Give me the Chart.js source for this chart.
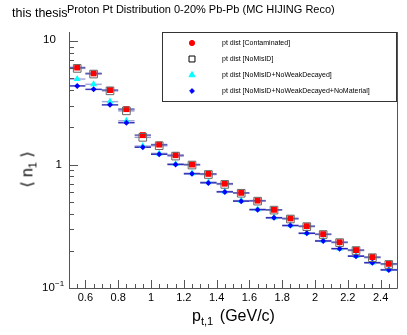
<!DOCTYPE html>
<html>
<head>
<meta charset="utf-8">
<script src="https://cdn.jsdelivr.net/npm/chart.js@4"></script>
<style>
  body { margin: 0; background: #fff; }
  #wrap { position: relative; width: 407px; height: 335px; font-family: "Liberation Sans", Arial, sans-serif; }
  .txt { position: absolute; white-space: nowrap; color: #000; line-height: 1; }
  .txt sub { font-size: 70%; vertical-align: -0.35em; }
  #ytitle { transform: rotate(-90deg); transform-origin: center center; }
</style>
</head>
<body>
<div id="wrap">
  <canvas id="chart" width="407" height="335"></canvas>
  <div class="txt" style="left:12px; top:7px; font-size:12.5px;">this thesis</div>
  <div class="txt" style="left:67px; top:4px; font-size:11px;">Proton Pt Distribution 0-20% Pb-Pb (MC HIJING Reco)</div>
  <div class="txt" style="left:192px; top:308px; font-size:16px;">p<sub>t,1</sub> <span style="margin-left:2px">(GeV/c)</span></div>
  <div class="txt" id="ytitle" style="left:2px; top:160px; font-size:16px; width:54px; text-align:center;">&lang; n<sub>1</sub> &rang;</div>
</div>
<script>
// bin centres (GeV/c) and the four distributions
const binCenters = [0.55, 0.65, 0.75, 0.85, 0.95, 1.05, 1.15, 1.25, 1.35, 1.45,
                    1.55, 1.65, 1.75, 1.85, 1.95, 2.05, 2.15, 2.25, 2.35, 2.45];
const binHalfWidth = 0.05;
const contaminated = [6.1, 5.47, 4.01, 2.81, 1.73, 1.45, 1.19, 1.0, 0.84, 0.70,
                      0.59, 0.51, 0.43, 0.366, 0.317, 0.273, 0.235, 0.203, 0.178, 0.157];
const noMisID = [6.0, 5.4, 3.95, 2.72, 1.66, 1.42, 1.17, 0.99, 0.83, 0.69,
                 0.585, 0.505, 0.427, 0.362, 0.314, 0.271, 0.233, 0.201, 0.176, 0.155];
const noWeakDecayed = [4.92, 4.46, 3.23, 2.26, 1.41, 1.23, 1.01, 0.85, 0.72, 0.605,
                       0.51, 0.435, 0.372, 0.322, 0.279, 0.242, 0.209, 0.182, 0.161, 0.141];
const noMaterial = [4.33, 4.06, 3.04, 2.18, 1.38, 1.21, 1.0, 0.84, 0.71, 0.60,
                    0.505, 0.43, 0.37, 0.32, 0.277, 0.24, 0.208, 0.181, 0.160, 0.14];

const xTicks = [0.6, 0.8, 1.0, 1.2, 1.4, 1.6, 1.8, 2.0, 2.2, 2.4];
const xTickLabels = ['0.6', '0.8', '1', '1.2', '1.4', '1.6', '1.8', '2', '2.2', '2.4'];
const yTicks = [0.1, 1, 10];
const yTickLabels = ['10-1', '1', '10'];

const legendLabels = [
    'pt dist [Contaminated]',
    'pt dist [NoMisID]',
    'pt dist [NoMisID+NoWeakDecayed]',
    'pt dist [NoMisID+NoWeakDecayed+NoMaterial]'
];

const FONT = '"Liberation Sans", Arial, sans-serif';
const AXIS_COLOR = '#555';

function toPoints(values) {
    return binCenters.map((x, i) => ({ x: x, y: values[i] }));
}

// horizontal error bars (bin width), drawn under the markers
const errorBars = {
    id: 'errorBars',
    beforeDatasetsDraw(chart) {
        const ctx = chart.ctx;
        const xs = chart.scales.x;
        const ys = chart.scales.y;
        ctx.save();
        ctx.lineWidth = 1.5;
        chart.data.datasets.forEach(ds => {
            ctx.strokeStyle = ds.barColor;
            ds.data.forEach(p => {
                const y = ys.getPixelForValue(p.y);
                ctx.beginPath();
                ctx.moveTo(xs.getPixelForValue(p.x - binHalfWidth), y);
                ctx.lineTo(xs.getPixelForValue(p.x + binHalfWidth), y);
                ctx.stroke();
            });
        });
        ctx.restore();
    }
};

// ROOT-like frame: axes with inward ticks, right edge, y labels, legend box
const rootFrame = {
    id: 'rootFrame',
    afterDraw(chart) {
        const ctx = chart.ctx;
        const xs = chart.scales.x;
        const ys = chart.scales.y;
        const a = chart.chartArea;
        ctx.save();
        ctx.strokeStyle = AXIS_COLOR;
        ctx.lineWidth = 1;

        ctx.beginPath();
        ctx.moveTo(a.left + 0.5, a.top);
        ctx.lineTo(a.left + 0.5, a.bottom + 0.5);
        ctx.lineTo(a.right + 0.5, a.bottom + 0.5);
        ctx.lineTo(a.right + 0.5, a.top);
        ctx.stroke();

        // x ticks: major every 0.2, minor every 0.05
        ctx.beginPath();
        for (let k = 0; k <= 40; k++) {
            const v = 0.5 + k * 0.05;
            const px = Math.round(xs.getPixelForValue(v)) + 0.5;
            const major = (k - 2) % 4 === 0;
            const len = major ? 8 : 4;
            ctx.moveTo(px, a.bottom);
            ctx.lineTo(px, a.bottom - len);
        }
        // y ticks: major per decade, minor 2..9
        for (let d = -1; d <= 1; d++) {
            for (let m = 1; m <= 9; m++) {
                const v = m * Math.pow(10, d);
                if (v < ys.min || v > ys.max) continue;
                const py = Math.round(ys.getPixelForValue(v)) + 0.5;
                const len = m === 1 ? 9 : 5;
                ctx.moveTo(a.left, py);
                ctx.lineTo(a.left + len, py);
            }
        }
        ctx.stroke();

        // y labels, ROOT style (10 and 10^-1 share the same base position)
        ctx.fillStyle = '#000';
        ctx.textBaseline = 'middle';
        yTicks.forEach((v, i) => {
            const py = ys.getPixelForValue(v);
            const lab = yTickLabels[i];
            ctx.font = '11.5px ' + FONT;
            if (lab === '1') {
                ctx.textAlign = 'right';
                ctx.fillText(lab, 62, py);
            } else if (lab === '10') {
                ctx.textAlign = 'left';
                ctx.fillText(lab, 43, py - 1);
            } else {
                ctx.textAlign = 'left';
                ctx.fillText('10', 42, py);
                ctx.font = '8px ' + FONT;
                ctx.fillText('\u22121', 55, py - 4);
            }
        });

        // legend
        const lx = 162.5, ly = 32.5, lw = 234, lh = 69;
        ctx.fillStyle = '#fff';
        ctx.fillRect(lx, ly, lw, lh);
        ctx.strokeStyle = '#333';
        ctx.strokeRect(lx, ly, lw, lh);
        ctx.fillStyle = '#000';
        ctx.font = '7px ' + FONT;
        ctx.textAlign = 'left';
        ctx.textBaseline = 'middle';
        const rowY = [43, 59, 75, 91];
        chart.data.datasets.forEach((ds, i) => {
            const cy = rowY[i];
            ctx.fillText(legendLabels[i], 222, cy);
            ctx.save();
            ctx.fillStyle = ds.legendFill;
            ctx.strokeStyle = ds.legendStroke;
            ctx.lineWidth = 1;
            Chart.helpers.drawPoint(ctx, {
                pointStyle: ds.legendStyle,
                radius: ds.legendRadius,
                borderWidth: 1,
                rotation: 0
            }, 192, cy);
            ctx.restore();
        });
        ctx.restore();
    }
};

const datasets = [
    {
        label: legendLabels[0],
        data: toPoints(contaminated),
        pointStyle: 'rect',
        pointRadius: 4.2,
        backgroundColor: '#ff0000',
        borderColor: '#ff0000',
        borderWidth: 0,
        barColor: 'rgba(40,40,160,0.75)',
        legendStyle: 'circle', legendRadius: 2.6, legendFill: '#ff0000', legendStroke: '#ff0000',
        order: 2
    },
    {
        label: legendLabels[1],
        data: toPoints(noMisID),
        pointStyle: 'rect',
        pointRadius: 5.4,
        backgroundColor: 'rgba(0,0,0,0)',
        borderColor: '#666',
        borderWidth: 1,
        barColor: 'rgba(90,90,170,0.6)',
        legendStyle: 'rect', legendRadius: 4.2, legendFill: 'rgba(0,0,0,0)', legendStroke: '#000',
        order: 0
    },
    {
        label: legendLabels[2],
        data: toPoints(noWeakDecayed),
        pointStyle: 'triangle',
        pointRadius: 4,
        backgroundColor: '#00ffff',
        borderColor: '#00ffff',
        borderWidth: 0,
        barColor: 'rgba(110,110,200,0.6)',
        legendStyle: 'triangle', legendRadius: 3.5, legendFill: '#00ffff', legendStroke: '#00ffff',
        order: 3
    },
    {
        label: legendLabels[3],
        data: toPoints(noMaterial),
        pointStyle: 'rectRot',
        pointRadius: 3,
        backgroundColor: '#0000ff',
        borderColor: '#0000ff',
        borderWidth: 0,
        barColor: 'rgba(20,20,170,0.85)',
        legendStyle: 'rectRot', legendRadius: 2.4, legendFill: '#0000ff', legendStroke: '#0000ff',
        order: 1
    }
];

new Chart(document.getElementById('chart'), {
    type: 'scatter',
    data: { datasets: datasets },
    options: {
        responsive: false,
        animation: false,
        layout: { padding: { left: 0, right: 10, top: 32, bottom: 0 } },
        plugins: {
            legend: { display: false },
            tooltip: { enabled: false }
        },
        scales: {
            x: {
                type: 'linear',
                min: 0.5,
                max: 2.5,
                grid: { display: false, drawTicks: false },
                border: { display: false },
                afterBuildTicks: scale => { scale.ticks = xTicks.map(v => ({ value: v })); },
                afterFit: scale => { scale.height = 47; },
                ticks: {
                    autoSkip: false,
                    maxRotation: 0,
                    padding: 3,
                    color: '#000',
                    font: { family: FONT, size: 11 },
                    callback: v => xTickLabels[xTicks.findIndex(t => Math.abs(t - v) < 1e-6)]
                }
            },
            y: {
                type: 'logarithmic',
                min: 0.1,
                max: 11.83,
                grid: { display: false, drawTicks: false },
                border: { display: false },
                afterBuildTicks: scale => { scale.ticks = yTicks.map(v => ({ value: v })); },
                afterFit: scale => { scale.width = 69; },
                // labels are drawn by the rootFrame plugin at the scale's tick positions
                ticks: { display: false }
            }
        }
    },
    plugins: [errorBars, rootFrame]
});
</script>
</body>
</html>
